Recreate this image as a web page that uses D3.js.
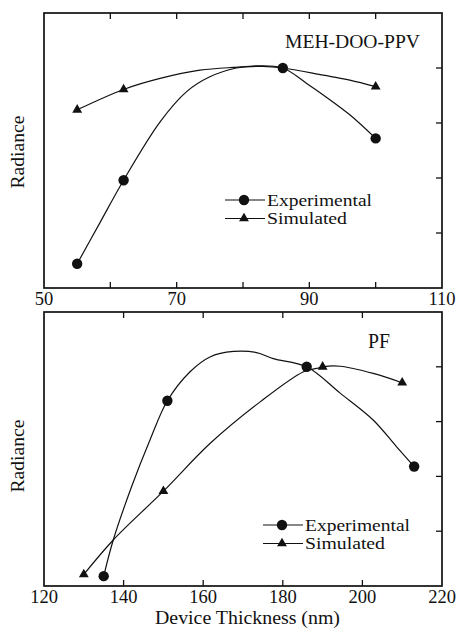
<!DOCTYPE html>
<html><head><meta charset="utf-8">
<script src="https://cdn.jsdelivr.net/npm/d3@7"></script>
<style>body{margin:0;background:#fff}svg{display:block}text{font-family:"Liberation Serif","Times New Roman",serif;fill:#111}</style>
</head><body><svg id="c" width="458" height="631"></svg>
<script>
// ---- Top panel (MEH-DOO-PPV) ----
// measured points (markers)
const topExpX = [55, 62, 86, 100];
const topExpY = [0.44, 1.96, 4.0, 2.72];
const topSimX = [55, 62, 100];
const topSimY = [3.24, 3.61, 3.66];
// drawn smooth curves
const topExpCurveX = [55, 58.4, 62, 67.5, 71.5, 75, 79, 82, 86, 89.6, 92.1, 96.1, 100];
const topExpCurveY = [0.44, 1.18, 1.96, 3.02, 3.57, 3.84, 4.0, 4.04, 4.0, 3.72, 3.51, 3.15, 2.72];
const topSimCurveX = [55, 62, 67.5, 73.5, 78.5, 83, 86, 92.1, 96.1, 100];
const topSimCurveY = [3.24, 3.61, 3.81, 3.96, 4.01, 4.03, 4.0, 3.87, 3.78, 3.66];
const topXTicks = [50, 70, 90, 110];
const topXMinor = [60, 80, 100];

// ---- Bottom panel (PF) ----
const botExpX = [135, 151, 186, 213];
const botExpY = [0.18, 3.38, 4.0, 2.18];
const botSimX = [130, 150, 190, 210];
const botSimY = [0.21, 1.73, 4.0, 3.71];
const botExpCurveX = [135, 137.4, 142, 146.6, 151, 156.7, 161.7, 167.6, 173.4, 177.6, 186, 194.4, 202.7, 208.6, 213];
const botExpCurveY = [0.18, 0.84, 1.81, 2.66, 3.38, 3.91, 4.18, 4.28, 4.26, 4.15, 4.0, 3.52, 3.03, 2.54, 2.18];
const botSimCurveX = [130, 137.4, 150, 161.7, 174.3, 185.2, 188.5, 190, 194.4, 202.7, 210];
const botSimCurveY = [0.21, 0.84, 1.73, 2.6, 3.36, 3.91, 3.97, 4.0, 4.01, 3.88, 3.71];
const botXTicks = [120, 140, 160, 180, 200, 220];

const yTicks = [1, 2, 3, 4];
const legendNames = ["Experimental", "Simulated"];

const svg = d3.select("#c");
const ink = "#111";
const zip = (a, b) => a.map((v, i) => [v, b[i]]);

function panel(opt){
  const g = svg.append("g");
  const x = d3.scaleLinear().domain(opt.xdom).range([44, 442]);
  const y = d3.scaleLinear().domain([0, 5]).range([opt.bottom, opt.top]);
  const allX = opt.xticks.concat(opt.minor || []);
  allX.forEach(v => {
    if (v === opt.xdom[0] || v === opt.xdom[1]) return;
    g.append("line").attr("x1", x(v)).attr("x2", x(v)).attr("y1", y(0)).attr("y2", y(0) - 6).attr("stroke", ink).attr("stroke-width", 1.3);
    g.append("line").attr("x1", x(v)).attr("x2", x(v)).attr("y1", y(5)).attr("y2", y(5) + 6).attr("stroke", ink).attr("stroke-width", 1.3);
  });
  yTicks.forEach(v => {
    g.append("line").attr("x1", x.range()[1]).attr("x2", x.range()[1] - 6).attr("y1", y(v)).attr("y2", y(v)).attr("stroke", ink).attr("stroke-width", 1.3);
  });
  g.append("rect").attr("x", 44).attr("y", opt.top).attr("width", 398).attr("height", opt.bottom - opt.top)
    .attr("fill", "none").attr("stroke", ink).attr("stroke-width", 1.7);
  opt.xticks.forEach(v => {
    g.append("text").attr("x", x(v)).attr("y", opt.bottom + 16.5).attr("text-anchor", "middle")
      .attr("font-size", 18.5).text(v);
  });
  g.append("text").attr("transform", `translate(24,${opt.ylabC}) rotate(-90)`)
    .attr("text-anchor", "middle").attr("font-size", 19)
    .attr("textLength", 73).attr("lengthAdjust", "spacingAndGlyphs").text("Radiance");
  const line = d3.line().x(d => x(d[0])).y(d => y(d[1])).curve(d3.curveCatmullRom.alpha(0.5));
  g.append("path").attr("d", line(zip(opt.exC[0], opt.exC[1]))).attr("fill", "none").attr("stroke", ink).attr("stroke-width", 1.2);
  g.append("path").attr("d", line(zip(opt.smC[0], opt.smC[1]))).attr("fill", "none").attr("stroke", ink).attr("stroke-width", 1.2);
  const tri = d3.symbol().type(d3.symbolTriangle).size(42);
  g.selectAll(null).data(zip(opt.sm[0], opt.sm[1])).join("path").attr("d", tri)
    .attr("transform", d => `translate(${x(d[0])},${y(d[1])})`).attr("fill", ink);
  g.selectAll(null).data(zip(opt.ex[0], opt.ex[1])).join("circle")
    .attr("cx", d => x(d[0])).attr("cy", d => y(d[1])).attr("r", 5.2).attr("fill", ink);
  g.append("text").attr("x", opt.label[1]).attr("y", opt.label[2]).attr("font-size", opt.label[4])
    .attr("textLength", opt.label[3]).attr("lengthAdjust", "spacingAndGlyphs").text(opt.label[0]);
  const lx = opt.legend[0], ly = opt.legend[1], dy = 18.5;
  g.append("line").attr("x1", lx).attr("x2", lx + 40).attr("y1", ly).attr("y2", ly).attr("stroke", ink).attr("stroke-width", 1.2);
  g.append("circle").attr("cx", lx + 19).attr("cy", ly).attr("r", 5.2).attr("fill", ink);
  g.append("text").attr("x", lx + 42).attr("y", ly + 5.5).attr("font-size", 17)
    .attr("textLength", 105).attr("lengthAdjust", "spacingAndGlyphs").text(legendNames[0]);
  g.append("line").attr("x1", lx).attr("x2", lx + 40).attr("y1", ly + dy).attr("y2", ly + dy).attr("stroke", ink).attr("stroke-width", 1.2);
  g.append("path").attr("d", tri).attr("transform", `translate(${lx + 19},${ly + dy})`).attr("fill", ink);
  g.append("text").attr("x", lx + 42).attr("y", ly + dy + 5.5).attr("font-size", 17)
    .attr("textLength", 80).attr("lengthAdjust", "spacingAndGlyphs").text(legendNames[1]);
}

panel({xdom: [50, 110], top: 13, bottom: 288, xticks: topXTicks, minor: topXMinor, ylabC: 152,
  ex: [topExpX, topExpY], sm: [topSimX, topSimY], exC: [topExpCurveX, topExpCurveY], smC: [topSimCurveX, topSimCurveY],
  label: ["MEH-DOO-PPV", 285, 48, 135, 18.5], legend: [225, 200]});
panel({xdom: [120, 220], top: 312, bottom: 586, xticks: botXTicks, ylabC: 456,
  ex: [botExpX, botExpY], sm: [botSimX, botSimY], exC: [botExpCurveX, botExpCurveY], smC: [botSimCurveX, botSimCurveY],
  label: ["PF", 368, 348, 22, 20], legend: [263, 525]});

svg.append("text").attr("x", 155).attr("y", 624).attr("font-size", 19)
  .attr("textLength", 185).attr("lengthAdjust", "spacingAndGlyphs").text("Device Thickness (nm)");
</script></body></html>
